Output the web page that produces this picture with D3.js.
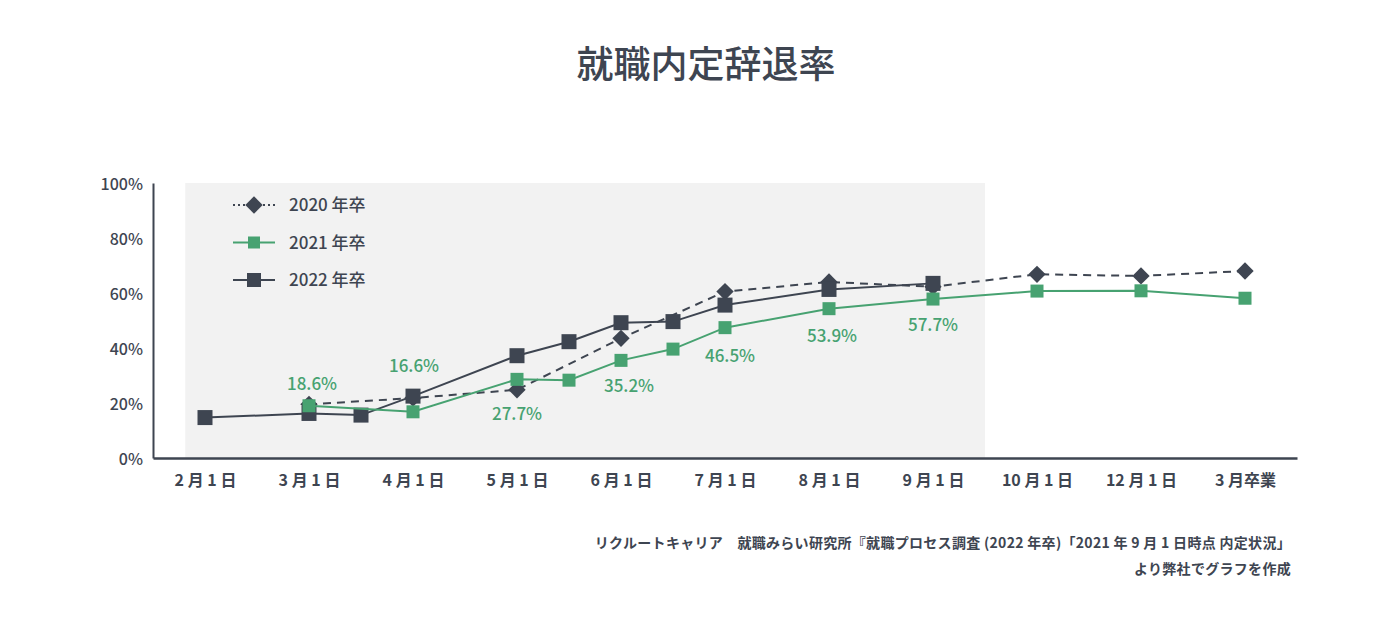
<!DOCTYPE html>
<html>
<head>
<meta charset="utf-8">
<script src="https://cdn.jsdelivr.net/npm/d3@7"></script>
<style>
  body { margin: 0; background: #fff; }
  svg text { font-family: "Noto Sans CJK JP", "Noto Sans", sans-serif; }
</style>
</head>
<body>
<div class="center"></div>
<script>
// categories on the x axis (half steps are mid-month surveys)
const categories = ["2 月 1 日", "3 月 1 日", "4 月 1 日", "5 月 1 日", "6 月 1 日", "7 月 1 日",
                    "8 月 1 日", "9 月 1 日", "10 月 1 日", "12 月 1 日", "3 月卒業"];
const yTicks = [0, 20, 40, 60, 80, 100];

// 2020 年卒
const pos2020 = [1, 2, 3, 4, 5, 6, 7, 8, 9, 10];
const val2020 = [19.5, 21.8, 24.8, 43.5, 60.5, 64.0, 62.3, 66.8, 66.2, 68.0];

// 2021 年卒
const pos2021 = [1, 2, 3, 3.5, 4, 4.5, 5, 6, 7, 8, 9, 10];
const val2021 = [19.0, 16.8, 28.6, 28.3, 35.5, 39.6, 47.4, 54.3, 57.8, 60.7, 60.8, 58.1];

// 2022 年卒
const pos2022 = [0, 1, 1.5, 2, 3, 3.5, 4, 4.5, 5, 6, 7];
const val2022 = [14.7, 16.2, 15.6, 22.5, 37.2, 42.3, 49.2, 49.6, 55.6, 61.3, 63.5];

// labels printed on 2021 points
const labelPos = [1, 2, 3, 4, 5, 6, 7];
const labelText = ["18.6%", "16.6%", "27.7%", "35.2%", "46.5%", "53.9%", "57.7%"];
const labelDy = [-22, -46, 35, 26, 28, 27, 26];
const labelDx = [3, 1, 0, 8, 5, 3, 0];

const dark = "#3e4551";
const green = "#47a271";

const W = 1396, H = 625;
const margin = {top: 183, right: 99, bottom: 167, left: 153};
const width = W - margin.left - margin.right;
const height = H - margin.top - margin.bottom;

const svg = d3.select(".center").append("svg")
  .attr("width", W).attr("height", H)
  .append("g")
  .attr("transform", `translate(${margin.left},${margin.top})`);

const x = d3.scaleLinear().domain([-0.5, categories.length - 0.5]).range([0, width]);
const y = d3.scaleLinear().domain([0, 100]).range([height, 0]);

// title
svg.append("text")
  .text("就職内定辞退率")
  .attr("x", 706 - margin.left)
  .attr("y", 78 - margin.top)
  .attr("text-anchor", "middle")
  .style("font-size", "37px")
  .style("font-weight", "500")
  .style("fill", dark);

// shaded period
svg.append("rect")
  .attr("x", x(-0.19))
  .attr("y", y(100))
  .attr("width", x(7.5) - x(-0.19))
  .attr("height", height)
  .style("fill", "#f2f2f2");

// axes
const yAxis = d3.axisLeft(y).tickValues(yTicks).tickFormat(d => d + "%").tickSize(0).tickPadding(10);
const gy = svg.append("g").call(yAxis);
gy.select(".domain").attr("stroke", dark).attr("stroke-width", 2);
gy.selectAll("text").style("font-size", "16px").style("font-weight", "500").style("fill", dark)
  .attr("dy", "0.4em");

const xAxis = d3.axisBottom(x).tickValues(d3.range(categories.length))
  .tickFormat(i => categories[i]).tickSize(0).tickPadding(17);
const gx = svg.append("g").attr("transform", `translate(0,${height})`).call(xAxis);
gx.select(".domain").attr("stroke", dark).attr("stroke-width", 2.5);
gx.selectAll("text").style("font-size", "16px").style("font-weight", "700").style("fill", dark);

// series
const line = d3.line().x(d => x(d.p)).y(d => y(d.v));
const zip = (p, v) => p.map((d, i) => ({p: d, v: v[i]}));

const d2020 = zip(pos2020, val2020);
const d2021 = zip(pos2021, val2021);
const d2022 = zip(pos2022, val2022);

const diamond = d3.symbol().type(d3.symbolSquare).size(150);

// 2020 dashed line + diamonds
svg.append("path").datum(d2020).attr("d", line)
  .attr("fill", "none").attr("stroke", dark).attr("stroke-width", 2)
  .attr("stroke-dasharray", "8,6");
svg.selectAll(".m2020").data(d2020).enter().append("path")
  .attr("class", "m2020")
  .attr("d", diamond)
  .attr("transform", d => `translate(${x(d.p)},${y(d.v)}) rotate(45)`)
  .style("fill", dark);

// 2022 line + squares
svg.append("path").datum(d2022).attr("d", line)
  .attr("fill", "none").attr("stroke", dark).attr("stroke-width", 2);
svg.selectAll(".m2022").data(d2022).enter().append("rect")
  .attr("class", "m2022")
  .attr("x", d => x(d.p) - 7.5).attr("y", d => y(d.v) - 7.5)
  .attr("width", 15).attr("height", 15)
  .style("fill", dark);

// 2021 line + squares
svg.append("path").datum(d2021).attr("d", line)
  .attr("fill", "none").attr("stroke", green).attr("stroke-width", 2);
svg.selectAll(".m2021").data(d2021).enter().append("rect")
  .attr("class", "m2021")
  .attr("x", d => x(d.p) - 6.5).attr("y", d => y(d.v) - 6.5)
  .attr("width", 13).attr("height", 13)
  .style("fill", green);

// value labels
svg.selectAll(".lbl").data(labelPos).enter().append("text")
  .attr("class", "lbl")
  .text((d, i) => labelText[i])
  .attr("x", (d, i) => x(d) + labelDx[i])
  .attr("y", (d, i) => y(val2021[pos2021.indexOf(d)]) + labelDy[i])
  .attr("dy", "0.35em")
  .attr("text-anchor", "middle")
  .style("font-size", "17px")
  .style("font-weight", "500")
  .style("fill", green);

// legend
const legendData = [
  {name: "2020 年卒", color: dark, dash: "2,3", shape: "diamond"},
  {name: "2021 年卒", color: green, dash: null, shape: "small"},
  {name: "2022 年卒", color: dark, dash: null, shape: "big"}
];
const legend = svg.append("g").attr("transform", `translate(${233 - margin.left},${205 - margin.top})`);
const items = legend.selectAll(".legend-item").data(legendData).enter().append("g")
  .attr("class", "legend-item")
  .attr("transform", (d, i) => `translate(0,${i * 37.5})`);
items.append("line")
  .attr("x1", 0).attr("x2", 42).attr("y1", 0).attr("y2", 0)
  .attr("stroke", d => d.color).attr("stroke-width", 2)
  .attr("stroke-dasharray", d => d.dash);
items.filter(d => d.shape === "diamond").append("path")
  .attr("d", diamond).attr("transform", "translate(21,0) rotate(45)").style("fill", dark);
items.filter(d => d.shape !== "diamond").append("rect")
  .attr("x", d => d.shape === "big" ? 14 : 15)
  .attr("y", d => d.shape === "big" ? -7 : -6)
  .attr("width", d => d.shape === "big" ? 14 : 12)
  .attr("height", d => d.shape === "big" ? 14 : 12)
  .style("fill", d => d.color);
items.append("text")
  .text(d => d.name)
  .attr("x", 56).attr("y", 0).attr("dy", "0.36em")
  .style("font-size", "17px").style("font-weight", "500").style("fill", dark);

// source
const src = ["リクルートキャリア　就職みらい研究所『就職プロセス調査 (2022 年卒)「2021 年 9 月 1 日時点 内定状況」",
             "より弊社でグラフを作成"];
svg.selectAll(".src").data(src).enter().append("text")
  .attr("class", "src")
  .text(d => d)
  .attr("x", 1291 - margin.left)
  .attr("y", (d, i) => 548 - margin.top + i * 26)
  .attr("text-anchor", "end")
  .style("font-size", "14px")
  .style("font-weight", "700")
  .style("letter-spacing", "0.3px")
  .style("fill", dark);
</script>
</body>
</html>
